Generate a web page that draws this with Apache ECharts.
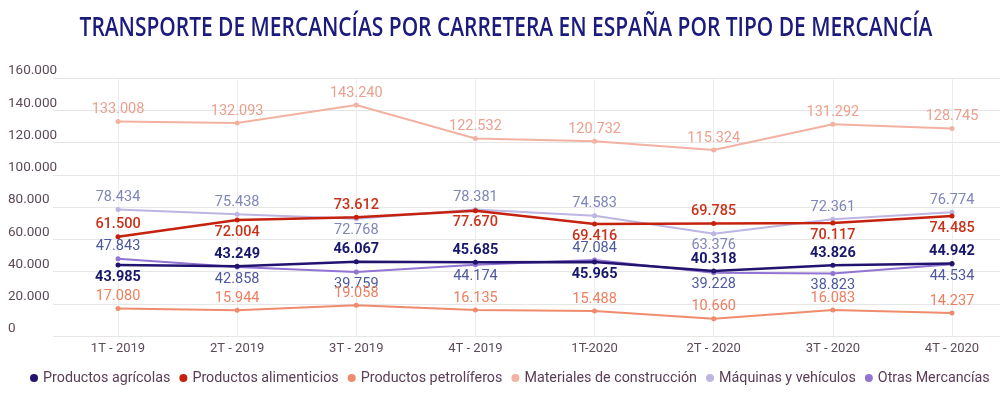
<!DOCTYPE html>
<html>
<head>
<meta charset="utf-8">
<script src="https://cdn.jsdelivr.net/npm/echarts@6/dist/echarts.min.js"></script>
<style>
html,body{margin:0;padding:0;background:#fff;}
#chart{width:1000px;height:395px;}
</style>
</head>
<body>
<div id="chart"></div>
<script>
const titleText = 'TRANSPORTE DE MERCANCÍAS POR CARRETERA EN ESPAÑA POR TIPO DE MERCANCÍA';
const categories = ['1T - 2019','2T - 2019','3T - 2019','4T - 2019','1T-2020','2T - 2020','3T - 2020','4T - 2020'];
const seriesNames = ['Productos agrícolas','Productos alimenticios','Productos petrolíferos','Materiales de construcción','Máquinas y vehículos','Otras Mercancías'];
const agricolas = [43985, 43249, 46067, 45685, 45965, 40318, 43826, 44942];
const alimenticios = [61500, 72004, 73612, 77670, 69416, 69785, 70117, 74485];
const petroliferos = [17080, 15944, 19058, 16135, 15488, 10660, 16083, 14237];
const construccion = [133008, 132093, 143240, 122532, 120732, 115324, 131292, 128745];
const maquinas = [78434, 75438, 72768, 78381, 74583, 63376, 72361, 76774];
const otras = [47843, 42858, 39759, 44174, 47084, 39228, 38823, 44534];
// label position per point: 't' = above, 'b' = below
const posAgricolas = ['b','t','t','t','b','t','t','t'];
const posAlimenticios = ['t','b','t','b','b','t','b','b'];
const posPetroliferos = ['t','t','t','t','t','t','t','t'];
const posConstruccion = ['t','t','t','t','t','t','t','t'];
const posMaquinas = ['t','t','b','t','t','b','t','t'];
const posOtras = ['t','b','b','b','t','b','b','b'];
const yTicks = [0, 20000, 40000, 60000, 80000, 100000, 120000, 140000, 160000];

function fmt(v){ return String(v).replace(/\B(?=(\d{3})+(?!\d))/g, '.'); }

const styles = [
  {line:'#22136f', label:'#17176b', weight:'bold', width:2.5},
  {line:'#c4220e', label:'#c9321a', weight:'500', width:2.5},
  {line:'#ef8c6d', label:'#ee7e5f', weight:'normal', width:2},
  {line:'#f2b2a2', label:'#eca08f', weight:'normal', width:2},
  {line:'#bdb5e2', label:'#7f86ba', weight:'normal', width:2},
  {line:'#9274d2', label:'#4e59a1', weight:'normal', width:2}
];
const allData = [agricolas, alimenticios, petroliferos, construccion, maquinas, otras];
const allPos = [posAgricolas, posAlimenticios, posPetroliferos, posConstruccion, posMaquinas, posOtras];

const series = seriesNames.map((name, i) => ({
  name: name,
  type: 'line',
  xAxisIndex: 1,
  yAxisIndex: 1,
  symbol: 'circle',
  symbolSize: 5,
  z: 10 - i,
  lineStyle: {color: styles[i].line, width: styles[i].width},
  itemStyle: {color: styles[i].line},
  data: allData[i].map((v, j) => ({
    value: v,
    label: {position: allPos[i][j] === 't' ? 'top' : 'bottom'}
  })),
  label: {
    show: true,
    distance: 2,
    color: styles[i].label,
    fontFamily: 'Roboto',
    fontSize: 14.5,
    fontWeight: styles[i].weight,
    formatter: p => fmt(p.value)
  }
}));

const chart = echarts.init(document.getElementById('chart'), null, {renderer: 'canvas'});
chart.setOption({
  animation: false,
  backgroundColor: '#ffffff',
  graphic: [{
    type: 'text',
    x: 506,
    y: 28,
    scaleX: 0.775,
    style: {
      text: titleText,
      fill: '#1b1b7e',
      font: '600 27px "Open Sans"',
      textAlign: 'center',
      textVerticalAlign: 'middle'
    }
  }],
  legend: {
    data: seriesNames,
    left: 30,
    right: 0,
    top: 371,
    padding: 0,
    icon: 'circle',
    itemWidth: 8,
    itemHeight: 8,
    itemGap: 9,
    textStyle: {fontFamily: 'Roboto', fontSize: 14.3, color: '#5a3d56'}
  },
  grid: [
    {left: 53, right: 0, top: 78, bottom: 59},
    {left: 118, right: 48, top: 78, bottom: 59}
  ],
  xAxis: [
    {gridIndex: 0, type: 'value', show: false},
    {
      gridIndex: 1, type: 'category', data: categories, boundaryGap: false,
      axisLine: {show: false}, axisTick: {show: false},
      splitLine: {show: true, lineStyle: {color: '#ececec', width: 1}},
      axisLabel: {color: '#5c4a58', fontFamily: 'Roboto', fontSize: 13, margin: 6}
    }
  ],
  yAxis: [
    {
      gridIndex: 0, type: 'value', min: yTicks[0], max: yTicks[yTicks.length-1], interval: yTicks[1]-yTicks[0],
      axisLine: {show: false}, axisTick: {show: false},
      splitLine: {lineStyle: {color: '#e6e6e6', width: 1}},
      axisLabel: {color: '#5c4a58', fontFamily: 'Roboto', fontSize: 13.5, align: 'left', verticalAlign: 'bottom', margin: 45, padding: [0,0,0,0], formatter: v => fmt(v)}
    },
    {gridIndex: 1, type: 'value', min: yTicks[0], max: yTicks[yTicks.length-1], show: false}
  ],
  series: series
});
</script>
</body>
</html>
